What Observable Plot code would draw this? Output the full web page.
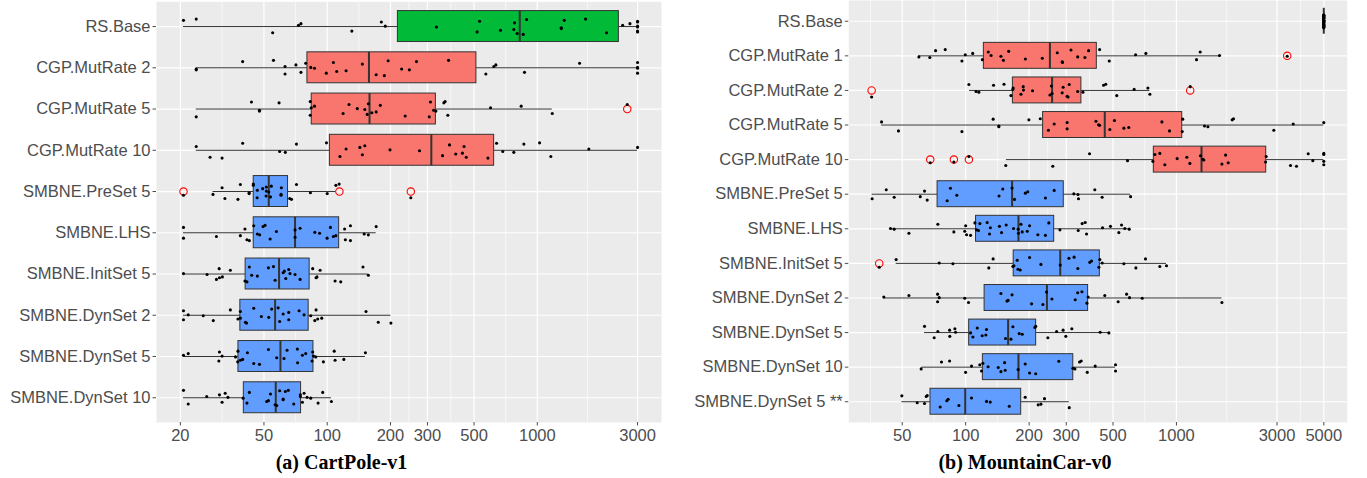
<!DOCTYPE html>
<html><head><meta charset="utf-8">
<script src="https://cdn.jsdelivr.net/npm/d3@7"></script>
<script src="https://cdn.jsdelivr.net/npm/@observablehq/plot@0.6"></script>
<style>
body{margin:0;background:#fff;}
#wrap{position:relative;width:1367px;height:478px;overflow:hidden;}
.sub{position:absolute;top:0;height:478px;}
.sub svg{display:block;}
.cap{position:absolute;left:0;right:0;top:451px;text-align:center;font-family:"Liberation Serif","Times New Roman",serif;font-weight:bold;font-size:20px;line-height:22px;color:#000;}
</style></head><body>
<div id="wrap">
  <div class="sub" id="left" style="left:0;width:683px"><div class="cap">(a) CartPole-v1</div></div>
  <div class="sub" id="right" style="left:683px;width:684px"><div class="cap">(b) MountainCar-v0</div></div>
</div>
<script>
// ---------------- (a) CartPole-v1 ----------------
const cartLabels = ["RS.Base","CGP.MutRate 2","CGP.MutRate 5","CGP.MutRate 10","SMBNE.PreSet 5","SMBNE.LHS","SMBNE.InitSet 5","SMBNE.DynSet 2","SMBNE.DynSet 5","SMBNE.DynSet 10"];
const cartGroups = ["RS","CGP","CGP","CGP","SMBNE","SMBNE","SMBNE","SMBNE","SMBNE","SMBNE"];
const cartLower  = [20.7, 23.8, 23.8, 23.8, 28.6, 20.7, 20.7, 20.7, 20.7, 20.7];
const cartQ1     = [217, 80.5, 84.4, 103, 44.7, 44.7, 40.9, 38.6, 37.8, 40.1];
const cartMedian = [825, 158, 159, 313, 52.7, 70.3, 59, 56.5, 59.9, 56.9];
const cartQ3     = [2444, 513, 329, 623, 65.1, 114, 82.5, 81.6, 86, 75.1];
const cartUpper  = [3000, 3000, 1178, 3000, 110, 171, 157, 201, 152, 104.7];
const cartOutliers = [[], [], [2680], [], [20.7, 114.3, 250], [], [], [], [], []];
const cartPoints = [
  [20.7, 23.8, 55, 73, 75, 131, 181, 189, 331, 517, 531, 668, 773, 779, 802, 857, 889, 1300, 1300, 1343, 1697, 2136, 2547, 2760, 3000, 3000, 3000, 3000, 3000, 3000],
  [23.8, 23.8, 39.6, 55.5, 63, 63, 71, 75, 79, 83.5, 87, 99, 107, 111, 123, 147, 171, 187, 195, 226, 246, 266, 378, 569, 621, 635, 869, 1589, 3000, 3000, 3000, 3000],
  [23.8, 43.6, 47.6, 47.6, 59, 83, 83, 84, 87, 119, 127, 139, 151, 155, 157, 163, 171, 179, 235, 306, 310, 321, 329, 359, 364, 375, 599, 838, 1178, 2680],
  [23.8, 27.7, 31.6, 39.6, 59.4, 63.2, 71.4, 99.2, 115, 123, 143, 147, 151, 199, 275, 354, 382, 409, 440, 448, 459, 582, 640, 685, 773, 863, 1025, 1160, 1759, 3000],
  [20.7, 28.6, 31.6, 32.6, 37.6, 38.6, 42.5, 42.5, 44.5, 44.5, 46.4, 46.5, 49.3, 51.2, 51.3, 51.3, 52.7, 53.7, 54.2, 60.3, 60.3, 60.5, 66.3, 67.6, 71.4, 83.2, 100, 110, 114, 250],
  [20.7, 20.7, 29.7, 38.6, 40.6, 41.5, 42.6, 44.7, 46.5, 47.7, 49.5, 50.6, 53.5, 57.3, 70.3, 70.3, 74.3, 87.3, 92, 99.9, 103.6, 107, 110, 121, 122, 129, 129, 150, 157, 171],
  [20.7, 26.8, 29.7, 30.6, 30.7, 31.7, 34.6, 40.6, 41.5, 42.6, 43.7, 46.5, 52.5, 55.5, 56.5, 61.7, 62.5, 63.5, 65.6, 66.5, 70.3, 74.3, 85.3, 88.5, 89.4, 92.5, 109, 116, 148, 157],
  [20.7, 20.7, 21.8, 25.7, 28.7, 34.6, 37.6, 38.6, 38.6, 40.8, 41.3, 44.7, 48.6, 52.7, 54.4, 58.4, 59.4, 61.7, 65.6, 65.6, 73.5, 77.6, 83.5, 87.3, 88.5, 90.1, 94.2, 153, 175, 201],
  [20.7, 21.8, 30.5, 30.7, 31.6, 36.6, 37.5, 37.6, 38.6, 39.6, 41.7, 44.7, 47.6, 52.5, 57.5, 62.3, 64.4, 72.1, 72.3, 76.2, 79, 84.7, 85.3, 86, 88.2, 95.9, 108, 109, 120, 152],
  [20.7, 21.8, 26.7, 30.7, 31.6, 32.7, 33.7, 39.8, 41.5, 42.6, 51.5, 52.5, 53.7, 56.5, 57.5, 59.4, 61.7, 61.7, 63.2, 65.3, 69.3, 74.5, 74.5, 76.2, 77.6, 80.2, 83.5, 90.5, 95.2, 104.7]
];
const cartTicks = [20, 50, 100, 200, 300, 500, 1000, 3000];

// ---------------- (b) MountainCar-v0 ----------------
const mcLabels = ["RS.Base","CGP.MutRate 1","CGP.MutRate 2","CGP.MutRate 5","CGP.MutRate 10","SMBNE.PreSet 5","SMBNE.LHS","SMBNE.InitSet 5","SMBNE.DynSet 2","SMBNE.DynSet 5","SMBNE.DynSet 10","SMBNE.DynSet 5 **"];
const mcGroups = ["RS","CGP","CGP","CGP","CGP","SMBNE","SMBNE","SMBNE","SMBNE","SMBNE","SMBNE","SMBNE"];
const mcLower  = [5000, 60, 104.3, 39.9, 156, 36, 44.1, 46.8, 40.9, 63.8, 62, 49.8];
const mcQ1     = [5000, 122, 167.5, 233, 781, 73.6, 112, 169, 123, 103.9, 120.7, 68.1];
const mcMedian = [5000, 251, 257, 457, 1315, 166, 178, 281, 243, 159, 178, 99.5];
const mcQ3     = [5000, 419, 354, 1065, 2666, 292, 263, 433, 381, 216, 324, 183.4];
const mcUpper  = [5000, 1601, 748, 5000, 5000, 606, 597, 897, 1643, 478, 514, 310];
const mcOutliers = [[], [3353], [35.8, 1162], [], [67.9, 87.9, 103.6], [], [], [38.9], [], [], [], []];
const mcPoints = [
  [5000, 5000, 5000, 5000, 5000, 5000, 5000, 5000, 5000, 5000, 5000, 5000, 5000, 5000, 5000, 5000, 5000, 5000, 5000, 5000, 5000, 5000, 5000, 5000, 5000, 5000, 5000, 5000, 5000, 5000],
  [60, 67.6, 72, 80, 96, 99.6, 108, 120, 128, 132, 147, 151, 160, 192, 231, 272, 287, 288, 316, 340, 368, 383, 432, 480, 640, 716, 1245, 1296, 1601, 3353],
  [35.8, 103.6, 112, 115.5, 135.6, 152, 164, 167.5, 168, 183, 187.5, 188, 207.6, 251, 255, 257, 287, 290, 303, 306, 310, 340, 360, 451, 462, 521, 630, 732, 748, 1162],
  [39.9, 48, 96, 135, 143.7, 143.7, 199.5, 226, 247, 263, 303, 303, 415, 427, 432, 483, 508, 563, 594, 853, 927, 1065, 1071, 1359, 1410, 1838, 1865, 2897, 3580, 5000],
  [67.9, 87.9, 103.6, 155, 259, 387, 586, 773, 790, 834, 881, 1008, 1120, 1158, 1300, 1334, 1349, 1643, 1710, 1760, 2647, 2665, 3476, 3711, 4217, 4436, 5000, 5000, 5000, 5000],
  [36, 42, 45.8, 60.9, 63.8, 65.7, 81.7, 84.7, 90.8, 144, 150, 166, 170.5, 192, 197, 239, 263, 326, 341, 343, 410, 444, 606],
  [44, 45.8, 53.8, 73.8, 87.9, 99, 100, 101, 105.5, 110.6, 112.6, 115, 116.8, 126.5, 129.8, 131, 144.7, 148, 155.7, 168.7, 177.5, 178, 183, 185.5, 196, 201, 220, 239, 248, 280, 342, 357, 369, 374.5, 446, 486.5, 533, 549, 569, 597],
  [38.9, 46.8, 74.9, 87, 128.8, 135, 167.5, 169.4, 175.7, 177, 181.5, 201, 227.5, 281, 309, 327, 340.5, 388, 395.5, 428.5, 433, 444.5, 563, 642, 713, 834, 897],
  [40.9, 53.8, 73.6, 73.6, 74.9, 99, 103.2, 147, 157, 159, 166, 205.5, 232.5, 242, 256.5, 331, 340, 356, 376, 381, 457, 529, 580, 599, 688, 1643],
  [63.8, 70.9, 73.8, 83.9, 84.1, 88.9, 89.6, 105.5, 108.2, 113.5, 119.8, 124.7, 125.6, 154.6, 164, 167.5, 179.4, 185.5, 213, 215, 245.4, 270, 290, 298.6, 319, 434.6, 478],
  [61.5, 76.8, 83.9, 99.9, 106.6, 116.7, 118.9, 120.7, 127.8, 142.7, 147, 153, 154, 177.4, 191.6, 201, 215, 276.7, 322.6, 329.7, 347, 353.3, 377.5, 411.6, 514, 514],
  [49.8, 58.9, 63.8, 65, 65.7, 75.7, 81.4, 82.6, 92.9, 106.6, 125.6, 130.8, 161, 191.6, 220.8, 227.5, 236.6, 310]
];
const mcTicks = [50, 100, 200, 300, 500, 1000, 3000, 5000];

// ---------------- styling (not data) ----------------
const COLORS = {RS: "#00BA38", CGP: "#F8766D", SMBNE: "#619CFF"};
const JITTER = [-0.15, 0.09, -0.03, 0.17, -0.11, 0.03, 0.13, -0.18, 0.07, -0.07, 0.19, -0.01, 0.05, -0.13, 0.15, -0.09, 0.11, -0.17, 0.01];

function minorBreaks(major, domain) {
  const lg = major.map(Math.log10);
  const bd = lg[1] - lg[0];
  const ext = [lg[0] - bd, ...lg, lg[lg.length - 1] + bd];
  const out = [];
  for (let k = 0; k < ext.length - 1; k++) {
    const v = Math.pow(10, (ext[k] + ext[k + 1]) / 2);
    if (v > domain[0] && v < domain[1]) out.push(v);
  }
  return out;
}

function panel(cfg) {
  const n = cfg.labels.length;
  const idx = d3.range(n);
  const boxes = idx.map(i => ({i, lo: cfg.lower[i], q1: cfg.q1[i], med: cfg.median[i], q3: cfg.q3[i], hi: cfg.upper[i], fill: COLORS[cfg.groups[i]]}));
  const pts = idx.flatMap(i => cfg.points[i].map((v, j) => ({v, y: i + JITTER[(j * 7 + i * 5) % JITTER.length]})));
  const outs = idx.flatMap(i => cfg.outliers[i].map(v => ({v, i})));
  const minor = minorBreaks(cfg.ticks, cfg.domain);
  const hw = 0.375;
  return Plot.plot({
    width: cfg.width, height: 450,
    marginLeft: cfg.marginLeft, marginRight: cfg.marginRight, marginTop: cfg.marginTop, marginBottom: 28,
    x: {type: "log", domain: cfg.domain},
    y: {domain: [-0.6, n - 0.4], reverse: true},
    style: {fontFamily: "'Liberation Sans', Arial, sans-serif", fontSize: "16.5px", color: "#4D4D4D", background: "white", overflow: "visible"},
    marks: [
      Plot.frame({fill: "#EBEBEB", stroke: "none"}),
      Plot.ruleX(minor, {stroke: "white", strokeWidth: 0.6}),
      Plot.ruleX(cfg.ticks, {stroke: "white", strokeWidth: 1.2}),
      Plot.ruleY(idx, {stroke: "white", strokeWidth: 1.2}),
      Plot.ruleY(boxes, {y: "i", x1: "lo", x2: "q1", stroke: "#333333", strokeWidth: 1}),
      Plot.ruleY(boxes, {y: "i", x1: "q3", x2: "hi", stroke: "#333333", strokeWidth: 1}),
      Plot.rect(boxes, {x1: "q1", x2: "q3", y1: d => d.i - hw, y2: d => d.i + hw, fill: "fill", stroke: "#333333", strokeWidth: 1}),
      Plot.ruleX(boxes, {x: "med", y1: d => d.i - hw, y2: d => d.i + hw, stroke: "#333333", strokeWidth: 2}),
      Plot.dot(outs, {x: "v", y: "i", r: 3.7, stroke: "#FF0000", strokeWidth: 1.1, fill: "none"}),
      Plot.dot(pts, {x: "v", y: "y", r: 1.55, fill: "black", stroke: "none"}),
      Plot.axisX(cfg.ticks, {text: d => String(d), tickSize: 3.5, tickPadding: 3, label: null, fontSize: 16.5}),
      Plot.axisY(idx, {text: i => cfg.labels[i], tickSize: 3.5, tickPadding: 2.5, label: null, fontSize: 16.5})
    ]
  });
}

document.getElementById("left").prepend(panel({
  labels: cartLabels, groups: cartGroups, lower: cartLower, q1: cartQ1, median: cartMedian, q3: cartQ3, upper: cartUpper,
  outliers: cartOutliers, points: cartPoints, ticks: cartTicks,
  domain: [15.4, 3900], width: 683, marginLeft: 156, marginRight: 22, marginTop: 1.3
}));
document.getElementById("right").prepend(panel({
  labels: mcLabels, groups: mcGroups, lower: mcLower, q1: mcQ1, median: mcMedian, q3: mcQ3, upper: mcUpper,
  outliers: mcOutliers, points: mcPoints, ticks: mcTicks,
  domain: [27.9, 6457], width: 684, marginLeft: 165.3, marginRight: 20.3, marginTop: 0
}));
</script>
</body></html>
